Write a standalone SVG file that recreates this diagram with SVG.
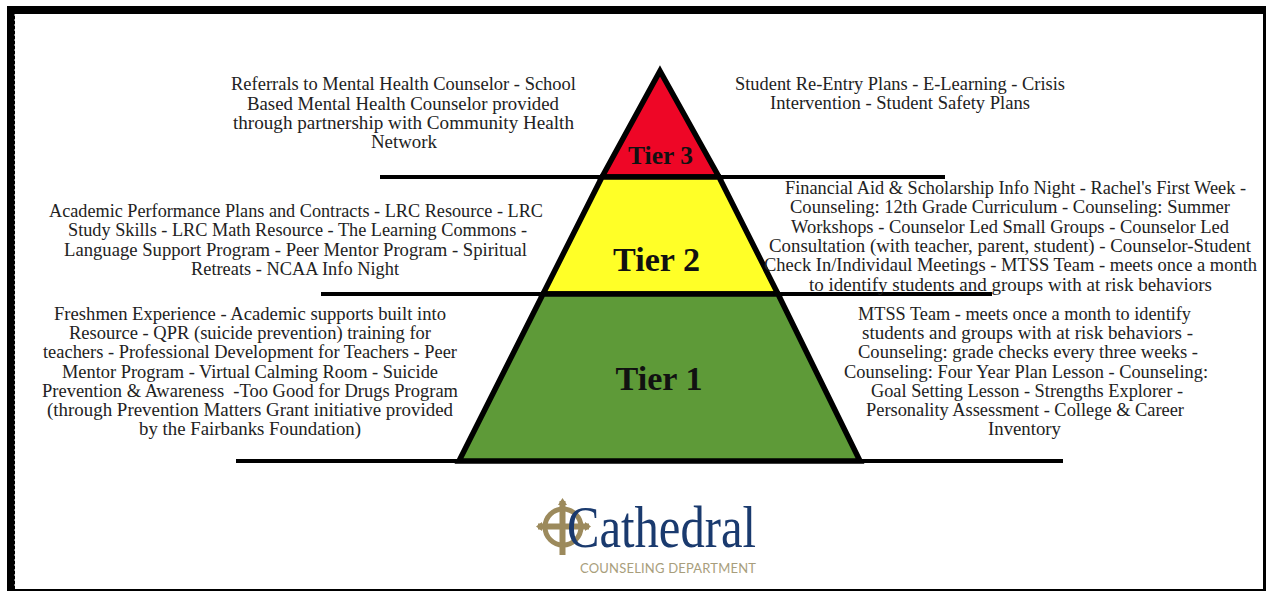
<svg xmlns="http://www.w3.org/2000/svg" width="1266" height="591" viewBox="0 0 1266 591">
<style>
text{font-family:"Liberation Serif","DejaVu Serif",serif;fill:#222}
.b text{font-size:19px;text-anchor:start}
.t{font-weight:bold;text-anchor:middle;fill:#111}
.l{stroke:#000;stroke-width:4;fill:none}
.tri{stroke:#000;stroke-width:5.500;stroke-linejoin:miter}
</style>
<rect width="1266" height="591" fill="#fff"/>
<g id="frame"><rect x="7" y="6" width="1259" height="8"/><rect x="7" y="6" width="8" height="585"/><rect x="1263" y="6" width="3" height="585"/><rect x="7" y="589" width="1259" height="2"/><line x1="15" y1="14" x2="15" y2="589" stroke="#fff" stroke-width="1" stroke-dasharray="2 3"/></g>
<g id="tier3"><polygon class="tri" points="660,71 719,177 602,177" fill="#ee0626"/><text class="t" x="660.500" y="164" font-size="25" textLength="65" lengthAdjust="spacingAndGlyphs">Tier 3</text></g>
<g id="tier2"><polygon class="tri" points="602,177 719,177 778,294 543,294" fill="#ffff27"/><text class="t" x="656.500" y="271" font-size="33" textLength="87" lengthAdjust="spacingAndGlyphs">Tier 2</text></g>
<g id="tier1"><polygon class="tri" points="543,294 778,294 860,461 459,461" fill="#5e9a38"/><text class="t" x="659" y="390" font-size="33" textLength="87" lengthAdjust="spacingAndGlyphs">Tier 1</text></g>
<g id="connectors"><line class="l" x1="380" y1="177" x2="945" y2="177"/><line class="l" x1="321" y1="294" x2="992" y2="294"/><line class="l" x1="236" y1="461" x2="1063" y2="461"/></g>
<g id="text-t3-left" class="b">
<text x="231" y="90" textLength="345" lengthAdjust="spacingAndGlyphs">Referrals to Mental Health Counselor - School</text>
<text x="247" y="110" textLength="312" lengthAdjust="spacingAndGlyphs">Based Mental Health Counselor provided</text>
<text x="233" y="129" textLength="341" lengthAdjust="spacingAndGlyphs">through partnership with Community Health</text>
<text x="371" y="148" textLength="66" lengthAdjust="spacingAndGlyphs">Network</text>
</g>
<g id="text-t3-right" class="b">
<text x="735" y="90" textLength="330" lengthAdjust="spacingAndGlyphs">Student Re-Entry Plans - E-Learning - Crisis</text>
<text x="770" y="109" textLength="260" lengthAdjust="spacingAndGlyphs">Intervention - Student Safety Plans</text>
</g>
<g id="text-t2-left" class="b">
<text x="49" y="217" textLength="494" lengthAdjust="spacingAndGlyphs">Academic Performance Plans and Contracts - LRC Resource - LRC</text>
<text x="68" y="236" textLength="459" lengthAdjust="spacingAndGlyphs">Study Skills - LRC Math Resource - The Learning Commons -</text>
<text x="64" y="256" textLength="463" lengthAdjust="spacingAndGlyphs">Language Support Program - Peer Mentor Program - Spiritual</text>
<text x="191" y="275" textLength="208" lengthAdjust="spacingAndGlyphs">Retreats - NCAA Info Night</text>
</g>
<g id="text-t2-right" class="b">
<text x="785" y="194" textLength="461" lengthAdjust="spacingAndGlyphs">Financial Aid &amp; Scholarship Info Night - Rachel's First Week -</text>
<text x="790" y="213" textLength="440" lengthAdjust="spacingAndGlyphs">Counseling: 12th Grade Curriculum - Counseling: Summer</text>
<text x="791" y="233" textLength="438" lengthAdjust="spacingAndGlyphs">Workshops - Counselor Led Small Groups - Counselor Led</text>
<text x="769" y="252" textLength="482" lengthAdjust="spacingAndGlyphs">Consultation (with teacher, parent, student) - Counselor-Student</text>
<text x="764" y="271" font-size="18" style="font-size:18.500px" textLength="493" lengthAdjust="spacingAndGlyphs">Check In/Individaul Meetings - MTSS Team - meets once a month</text>
<text x="809" y="291" textLength="403" lengthAdjust="spacingAndGlyphs">to identify students and groups with at risk behaviors</text>
</g>
<g id="text-t1-left" class="b">
<text x="54" y="320" textLength="392" lengthAdjust="spacingAndGlyphs">Freshmen Experience - Academic supports built into</text>
<text x="69" y="339" textLength="362" lengthAdjust="spacingAndGlyphs">Resource - QPR (suicide prevention) training for</text>
<text x="43" y="358" textLength="414" lengthAdjust="spacingAndGlyphs">teachers - Professional Development for Teachers - Peer</text>
<text x="62" y="378" textLength="376" lengthAdjust="spacingAndGlyphs">Mentor Program - Virtual Calming Room - Suicide</text>
<text x="42" y="397" textLength="416" lengthAdjust="spacingAndGlyphs" xml:space="preserve">Prevention &amp; Awareness  -Too Good for Drugs Program</text>
<text x="47" y="416" textLength="406" lengthAdjust="spacingAndGlyphs">(through Prevention Matters Grant initiative provided</text>
<text x="139" y="435" textLength="222" lengthAdjust="spacingAndGlyphs">by the Fairbanks Foundation)</text>
</g>
<g id="text-t1-right" class="b">
<text x="858" y="320" textLength="333" lengthAdjust="spacingAndGlyphs">MTSS Team - meets once a month to identify</text>
<text x="862" y="339" textLength="331" lengthAdjust="spacingAndGlyphs">students and groups with at risk behaviors -</text>
<text x="858" y="358" textLength="340" lengthAdjust="spacingAndGlyphs">Counseling: grade checks every three weeks -</text>
<text x="844" y="378" textLength="364" lengthAdjust="spacingAndGlyphs">Counseling: Four Year Plan Lesson - Counseling:</text>
<text x="871" y="397" textLength="312" lengthAdjust="spacingAndGlyphs">Goal Setting Lesson - Strengths Explorer -</text>
<text x="866" y="416" textLength="318" lengthAdjust="spacingAndGlyphs">Personality Assessment - College &amp; Career</text>
<text x="988" y="435" textLength="73" lengthAdjust="spacingAndGlyphs">Inventory</text>
</g>
<g id="logo">
<g fill="none" stroke="#9c8a5c"><circle cx="563" cy="527" r="18" stroke-width="5"/><path d="M562.500 501V555M538 526.500H589" stroke-width="6"/></g>
<g fill="#9c8a5c"><polygon points="562.500,498 567,505 558,505"/><polygon points="536,526.500 542,522 542,531"/><polygon points="591,526.500 585,522 585,531"/></g>
<text x="567" y="547" font-size="60" style="fill:#1a3a6e" textLength="189" lengthAdjust="spacingAndGlyphs">Cathedral</text>
<text x="580" y="573" font-size="13" letter-spacing="1" style="font-family:Lato,'Open Sans',sans-serif;fill:#a89e7c" textLength="177" lengthAdjust="spacing">COUNSELING DEPARTMENT</text>
</g>
</svg>
